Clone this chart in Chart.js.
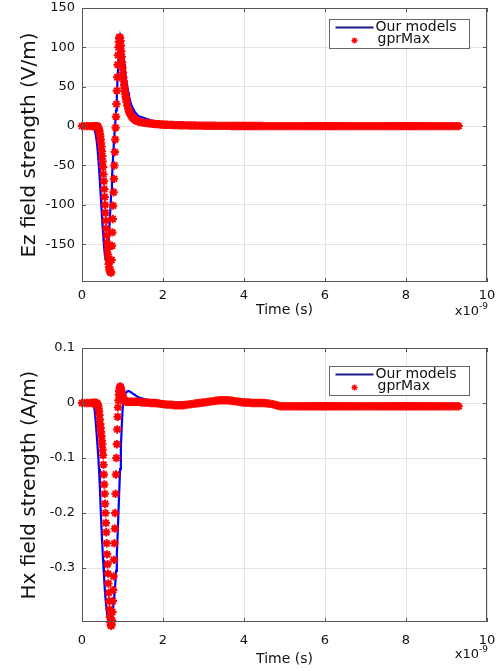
<!DOCTYPE html>
<html>
<head>
<meta charset="utf-8">
<script src="https://cdn.jsdelivr.net/npm/chart.js@4.4.1/dist/chart.umd.min.js"></script>
<style>
  html, body { margin: 0; padding: 0; background: #fff; }
  body { width: 498px; height: 671px; position: relative; overflow: hidden; }
  .panel { position: absolute; left: 0; width: 498px; }
  #ezPanel { top: 0; height: 325px; }
  #hxPanel { top: 330px; height: 341px; }
</style>
</head>
<body>
<div class="panel" id="ezPanel"><canvas id="ezChart"></canvas></div>
<div class="panel" id="hxPanel"><canvas id="hxChart"></canvas></div>
<script>
// time in ns (axis shows x10^-9 s)
const timeTicks = [0, 2, 4, 6, 8, 10];
const ezTicks = [-150, -100, -50, 0, 50, 100, 150];
const hxTicks = [-0.3, -0.2, -0.1, 0, 0.1];

const modelTime = [0, 0.12, 0.24,
  0.26, 0.28, 0.30, 0.32, 0.34, 0.36, 0.38, 0.40, 0.42, 0.44,
  0.46, 0.48, 0.50, 0.52, 0.54, 0.56, 0.58, 0.60, 0.62, 0.64,
  0.66, 0.68, 0.70, 0.72, 0.74, 0.76, 0.78, 0.80, 0.82, 0.84,
  0.86, 0.88, 0.90, 0.92, 0.94, 0.96, 0.98, 1.00, 1.02, 1.04,
  1.06, 1.08, 1.10, 1.12, 1.14, 1.16, 1.18, 1.20, 1.22, 1.24,
  1.26, 1.28, 1.30, 1.32, 1.34, 1.36, 1.38, 1.40,
  1.5, 1.6, 1.7, 1.8, 1.9, 2.0, 2.2, 2.4, 2.6, 2.8, 3.0, 3.5, 4.0, 4.5, 5.0, 6.0, 7.0, 8.0, 9.0, 9.3];

const gprTime = [0, 0.06, 0.12, 0.18, 0.24, 0.26, 0.28, 0.30, 0.32, 0.34,
  0.36, 0.37, 0.38, 0.39, 0.40, 0.41, 0.42, 0.43, 0.44, 0.45,
  0.46, 0.47, 0.48, 0.49, 0.50, 0.51, 0.52, 0.53, 0.54, 0.55,
  0.56, 0.57, 0.58, 0.59, 0.60, 0.61, 0.62, 0.63, 0.64, 0.65,
  0.66, 0.67, 0.68, 0.69, 0.70, 0.71, 0.72, 0.73, 0.74, 0.75,
  0.76, 0.77, 0.78, 0.79, 0.80, 0.81, 0.82, 0.83, 0.84, 0.85,
  0.86, 0.87, 0.88, 0.89, 0.90, 0.91, 0.92, 0.93, 0.94, 0.95,
  0.96, 0.97, 0.98, 0.99, 1.00, 1.01, 1.02, 1.03, 1.04, 1.05,
  1.06, 1.07, 1.08, 1.09, 1.10,
  1.12, 1.14, 1.16, 1.18, 1.20, 1.22, 1.24, 1.26, 1.28, 1.30, 1.32, 1.34, 1.36, 1.38, 1.40,
  1.45, 1.50, 1.55, 1.60, 1.65, 1.70, 1.75, 1.80, 1.85, 1.90,
  1.95, 2.00, 2.05, 2.10, 2.15, 2.20, 2.25, 2.30, 2.35, 2.40,
  2.45, 2.50, 2.55, 2.60, 2.65, 2.70, 2.75, 2.80, 2.85, 2.90,
  2.95, 3.00, 3.05, 3.10, 3.15, 3.20, 3.25, 3.30, 3.35, 3.40,
  3.45, 3.50, 3.55, 3.60, 3.65, 3.70, 3.75, 3.80, 3.85, 3.90,
  3.95, 4.00, 4.05, 4.10, 4.15, 4.20, 4.25, 4.30, 4.35, 4.40,
  4.45, 4.50, 4.55, 4.60, 4.65, 4.70, 4.75, 4.80, 4.85, 4.90,
  4.95, 5.00, 5.05, 5.10, 5.15, 5.20, 5.25, 5.30, 5.35, 5.40,
  5.45, 5.50, 5.55, 5.60, 5.65, 5.70, 5.75, 5.80, 5.85, 5.90,
  5.95, 6.00, 6.05, 6.10, 6.15, 6.20, 6.25, 6.30, 6.35, 6.40,
  6.45, 6.50, 6.55, 6.60, 6.65, 6.70, 6.75, 6.80, 6.85, 6.90,
  6.95, 7.00, 7.05, 7.10, 7.15, 7.20, 7.25, 7.30, 7.35, 7.40,
  7.45, 7.50, 7.55, 7.60, 7.65, 7.70, 7.75, 7.80, 7.85, 7.90,
  7.95, 8.00, 8.05, 8.10, 8.15, 8.20, 8.25, 8.30, 8.35, 8.40,
  8.45, 8.50, 8.55, 8.60, 8.65, 8.70, 8.75, 8.80, 8.85, 8.90,
  8.95, 9.00, 9.05, 9.10, 9.15, 9.20, 9.25, 9.30];

// Ez (V/m)
const ezModel = [0, 0, 0,
  0, -1, -3, -6, -11, -18, -27, -39, -53, -69,
  -86, -103, -120, -136, -150, -161, -168, -171, -170, -160,
  -145, -126, -106, -86, -66, -46, -28, -12, 3, 20,
  40, 62, 84, 102, 110, 111, 107, 98, 88, 79,
  70, 62, 55, 49, 43, 38, 34, 30, 27, 24.5,
  22, 20, 18.5, 17, 15.5, 14.5, 13.5, 12.5,
  11, 9, 7.5, 6.2, 5.2, 4.4, 3.2, 2.4, 1.8, 1.4, 1.1, 0.6, 0.3, 0.2, 0.1, 0, 0, 0, 0, 0];

const ezGpr = [0, 0, 0, 0, 0, 0, 0, 0, 0, 0,
  0, 0, 0, -1, -2, -3, -5, -7, -10, -13,
  -17, -21, -26, -32, -38, -45, -52, -61, -70, -80,
  -90, -100, -110, -120, -130, -139, -148, -156, -163, -169,
  -175, -179, -182, -184, -185, -186, -186, -170, -152, -135,
  -118, -101, -84, -67, -50, -33, -17, -2, 12, 28,
  45, 62, 78, 90, 100, 107, 112, 113, 112, 108,
  102, 95, 88, 81, 74, 68, 62, 57, 52, 48,
  44, 40, 37, 34, 31,
  26, 22, 19, 16.5, 14.5, 12.8, 11.4, 10.2, 9.2, 8.4, 7.7, 7.1, 6.6, 6.1, 5.7,
  5.1, 4.6, 4.2, 3.8, 3.5, 3.2, 2.9, 2.7, 2.5, 2.3,
  2.1, 2.0, 1.8, 1.7, 1.6, 1.5, 1.4, 1.3, 1.2, 1.1,
  1.05, 1.0, 0.95, 0.9, 0.85, 0.8, 0.75, 0.7, 0.65, 0.6,
  0.55, 0.5, 0.5, 0.5, 0.45, 0.4, 0.4, 0.4, 0.35, 0.3,
  0.3, 0.3, 0.3, 0.3, 0.25, 0.2, 0.2, 0.2, 0.2, 0.2,
  0.15, 0.1, 0.1, 0.1, 0.1, 0.1, 0.1, 0.1, 0.1, 0.1,
  0.05, 0, 0, 0, 0, 0, 0, 0, 0, 0,
  0, 0, 0, 0, 0, 0, 0, 0, 0, 0,
  0, 0, 0, 0, 0, 0, 0, 0, 0, 0,
  0, 0, 0, 0, 0, 0, 0, 0, 0, 0,
  0, 0, 0, 0, 0, 0, 0, 0, 0, 0,
  0, 0, 0, 0, 0, 0, 0, 0, 0, 0,
  0, 0, 0, 0, 0, 0, 0, 0, 0, 0,
  0, 0, 0, 0, 0, 0, 0, 0, 0, 0,
  0, 0, 0, 0, 0, 0, 0, 0, 0, 0,
  0, 0, 0, 0, 0, 0, 0, 0];

// Hx (A/m)
const hxModel = [0, 0, 0,
  0, -0.003, -0.008, -0.018, -0.035, -0.055, -0.075, -0.095, -0.12, -0.15,
  -0.19, -0.225, -0.255, -0.285, -0.31, -0.335, -0.355, -0.37, -0.383, -0.393,
  -0.4, -0.405, -0.405, -0.4, -0.39, -0.378, -0.365, -0.35, -0.33, -0.305,
  -0.275, -0.24, -0.2, -0.16, -0.12, -0.08, -0.045, -0.015, 0.003, 0.01,
  0.015, 0.018, 0.02, 0.021, 0.022, 0.022, 0.021, 0.02, 0.019, 0.018,
  0.017, 0.016, 0.015, 0.014, 0.013, 0.012, 0.011, 0.01,
  0.008, 0.006, 0.005, 0.004, 0.003, 0.002, -0.001, -0.003, -0.003, -0.001,
  0.001, 0.004, 0.001, 0, -0.005, -0.005, -0.005, -0.005, -0.005, -0.005];

const hxGpr = [0, 0, 0, 0, 0, 0, 0, 0, 0, 0,
  0, -0.001, -0.002, -0.004, -0.006, -0.01, -0.015, -0.022, -0.03, -0.038,
  -0.045, -0.052, -0.06, -0.068, -0.075, -0.085, -0.095, -0.112, -0.13, -0.148,
  -0.165, -0.183, -0.2, -0.218, -0.235, -0.255, -0.275, -0.293, -0.31, -0.328,
  -0.345, -0.36, -0.375, -0.388, -0.398, -0.403, -0.405, -0.402, -0.395, -0.38,
  -0.36, -0.34, -0.315, -0.285, -0.255, -0.228, -0.2, -0.165, -0.13, -0.1,
  -0.075, -0.048, -0.025, -0.008, 0.005, 0.015, 0.022, 0.027, 0.03, 0.029,
  0.026, 0.022, 0.018, 0.015, 0.012, 0.01, 0.008, 0.006, 0.005, 0.004,
  0.004, 0.003, 0.003, 0.003, 0.003,
  0.002, 0.002, 0.002, 0.002, 0.002, 0.002, 0.002, 0.002, 0.002, 0.002, 0.002, 0.002, 0.002, 0.002, 0.002,
  0.0015, 0.001, 0.001, 0.001, 0.0005, 0, 0, 0, -0.0005, -0.001,
  -0.0015, -0.002, -0.0025, -0.003, -0.003, -0.003, -0.0035, -0.004, -0.004, -0.004,
  -0.004, -0.004, -0.0035, -0.003, -0.0025, -0.002, -0.0015, -0.001, -0.0005, 0,
  0.0005, 0.001, 0.0015, 0.002, 0.0025, 0.003, 0.0035, 0.004, 0.0045, 0.005,
  0.005, 0.005, 0.005, 0.005, 0.0045, 0.004, 0.0035, 0.003, 0.0025, 0.002,
  0.0015, 0.001, 0.001, 0.001, 0.0005, 0, 0, 0, 0, 0,
  0, 0, -0.0005, -0.001, -0.0015, -0.002, -0.003, -0.004, -0.005, -0.006,
  -0.006, -0.006, -0.006, -0.006, -0.006, -0.006, -0.006, -0.006, -0.006, -0.006,
  -0.006, -0.006, -0.006, -0.006, -0.006, -0.006, -0.006, -0.006, -0.006, -0.006,
  -0.006, -0.006, -0.006, -0.006, -0.006, -0.006, -0.006, -0.006, -0.006, -0.006,
  -0.006, -0.006, -0.006, -0.006, -0.006, -0.006, -0.006, -0.006, -0.006, -0.006,
  -0.006, -0.006, -0.006, -0.006, -0.006, -0.006, -0.006, -0.006, -0.006, -0.006,
  -0.006, -0.006, -0.006, -0.006, -0.006, -0.006, -0.006, -0.006, -0.006, -0.006,
  -0.006, -0.006, -0.006, -0.006, -0.006, -0.006, -0.006, -0.006, -0.006, -0.006,
  -0.006, -0.006, -0.006, -0.006, -0.006, -0.006, -0.006, -0.006, -0.006, -0.006,
  -0.006, -0.006, -0.006, -0.006, -0.006, -0.006, -0.006, -0.006];

const FONT = "'DejaVu Sans', Verdana, sans-serif";
const BLUE = '#0000ff';
const RED = '#ff0000';
const GRID = '#e4e4e4';
const FRAME = '#555555';

function toPoints(xs, ys) {
  return xs.map((x, i) => ({ x: x, y: ys[i] }));
}

function drawStar(ctx, x, y, r) {
  ctx.beginPath();
  for (let k = 0; k < 4; k++) {
    const a = k * Math.PI / 4;
    ctx.moveTo(x - r * Math.cos(a), y - r * Math.sin(a));
    ctx.lineTo(x + r * Math.cos(a), y + r * Math.sin(a));
  }
  ctx.stroke();
}

// frame, inward ticks, legend box and the x10^-9 note
const matlabLook = {
  id: 'matlabLook',
  afterDraw(chart, args, opts) {
    const { ctx, chartArea: a, scales } = chart;
    ctx.save();
    ctx.strokeStyle = FRAME;
    ctx.lineWidth = 1;
    ctx.beginPath();
    timeTicks.forEach(v => {
      const px = Math.round(scales.x.getPixelForValue(v)) + 0.5;
      ctx.moveTo(px, a.bottom); ctx.lineTo(px, a.bottom - 4);
      ctx.moveTo(px, a.top); ctx.lineTo(px, a.top + 4);
    });
    opts.yTicks.forEach(v => {
      const py = Math.round(scales.y.getPixelForValue(v)) + 0.5;
      ctx.moveTo(a.left, py); ctx.lineTo(a.left + 4, py);
      ctx.moveTo(a.right, py); ctx.lineTo(a.right - 4, py);
    });
    ctx.stroke();
    ctx.strokeRect(Math.round(a.left) + 0.5, Math.round(a.top) + 0.5,
      Math.round(a.right - a.left) - 1, Math.round(a.bottom - a.top) - 1);

    // legend
    const w = 140, h = 29;
    const bx = Math.round(a.right - opts.legendRight - w) + 0.5;
    const by = Math.round(a.top + opts.legendTop) + 0.5;
    ctx.fillStyle = '#fff';
    ctx.fillRect(bx, by, w, h);
    ctx.strokeStyle = '#666';
    ctx.strokeRect(bx, by, w, h);
    ctx.strokeStyle = '#1a1a8c';
    ctx.lineWidth = 2;
    ctx.beginPath();
    ctx.moveTo(bx + 6, by + 8); ctx.lineTo(bx + 44, by + 8);
    ctx.stroke();
    ctx.strokeStyle = RED;
    ctx.lineWidth = 1.4;
    drawStar(ctx, bx + 25, by + 21, 3);
    ctx.fillStyle = '#111';
    ctx.font = '14px ' + FONT;
    ctx.textBaseline = 'middle';
    ctx.textAlign = 'left';
    ctx.fillText('Our models', bx + 46, by + 8);
    ctx.fillText('gprMax', bx + 48, by + 20);

    // exponent note
    ctx.font = '13px ' + FONT;
    ctx.textAlign = 'right';
    ctx.fillText('x10', a.right - 8, a.bottom + opts.expOffset);
    ctx.font = '9px ' + FONT;
    ctx.textAlign = 'left';
    ctx.fillText('-9', a.right - 8, a.bottom + opts.expOffset - 5);
    ctx.restore();
  }
};

function makeChart(id, cfg) {
  return new Chart(document.getElementById(id), {
    type: 'scatter',
    data: {
      datasets: [
        {
          label: 'gprMax',
          data: toPoints(gprTime, cfg.gpr),
          showLine: false,
          pointStyle: 'star',
          pointRadius: 4.2,
          pointBorderWidth: 2,
          borderColor: RED,
          backgroundColor: RED,
          clip: false,
          order: 1
        },
        {
          label: 'Our models',
          data: toPoints(modelTime, cfg.model),
          showLine: true,
          pointRadius: 0,
          borderWidth: 2.2,
          borderColor: BLUE,
          backgroundColor: BLUE,
          order: 2
        }
      ]
    },
    options: {
      responsive: true,
      maintainAspectRatio: false,
      animation: false,
      layout: { padding: { top: cfg.padTop, right: 11, left: 0, bottom: 0 } },
      plugins: {
        legend: { display: false },
        tooltip: { enabled: false },
        matlabLook: { yTicks: cfg.yTicks, legendRight: 18, legendTop: cfg.legendTop, expOffset: cfg.expOffset }
      },
      scales: {
        x: {
          type: 'linear',
          min: 0,
          max: 10,
          afterBuildTicks: s => { s.ticks = timeTicks.map(v => ({ value: v })); },
          afterFit: s => { s.height = cfg.xHeight; s.paddingLeft = 0; s.paddingRight = 0; },
          grid: { color: GRID, drawTicks: false },
          border: { display: false },
          ticks: { color: '#111', font: { family: FONT, size: 13 }, padding: cfg.xTickPad, maxRotation: 0 },
          title: { display: true, text: 'Time (s)', color: '#111', font: { family: FONT, size: 14 }, padding: { top: 0, bottom: cfg.xTitlePad } }
        },
        y: {
          type: 'linear',
          min: cfg.yMin,
          max: cfg.yMax,
          afterBuildTicks: s => { s.ticks = cfg.yTicks.map(v => ({ value: v })); },
          afterFit: s => { s.width = 82; s.paddingTop = 0; s.paddingBottom = 0; },
          grid: { color: GRID, drawTicks: false },
          border: { display: false },
          ticks: { color: '#111', font: { family: FONT, size: 13 }, padding: 7, callback: v => String(v) },
          title: { display: true, text: cfg.yTitle, color: '#111', font: { family: FONT, size: 20 }, padding: { top: 18, bottom: 0 } }
        }
      }
    },
    plugins: [matlabLook]
  });
}

makeChart('ezChart', {
  model: ezModel, gpr: ezGpr, yTicks: ezTicks, yMin: -198, yMax: 150,
  yTitle: 'Ez field strength (V/m)', padTop: 8, xHeight: 43, xTickPad: 6, xTitlePad: 6,
  legendTop: 11, expOffset: 30
});

makeChart('hxChart', {
  model: hxModel, gpr: hxGpr, yTicks: hxTicks, yMin: -0.398, yMax: 0.1,
  yTitle: 'Hx field strength (A/m)', padTop: 18, xHeight: 49, xTickPad: 11, xTitlePad: 3,
  legendTop: 18, expOffset: 33
});
</script>
</body>
</html>
